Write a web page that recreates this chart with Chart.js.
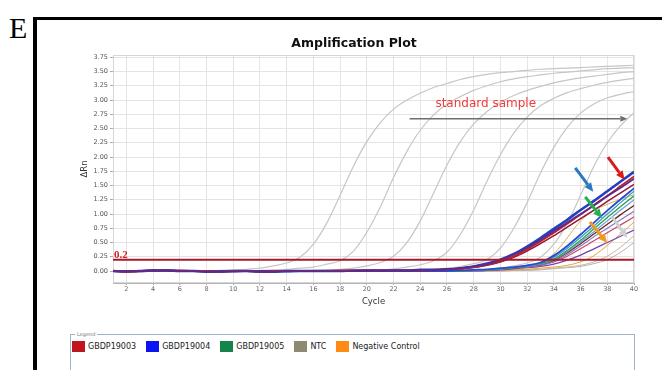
<!DOCTYPE html>
<html>
<head>
<meta charset="utf-8">
<script src="https://cdn.jsdelivr.net/npm/chart.js@4.4.1/dist/chart.umd.min.js"></script>
<style>
  html, body { margin: 0; padding: 0; background: #fff; }
  body { width: 662px; height: 370px; position: relative; overflow: hidden; font-family: "DejaVu Sans", sans-serif; }
  #panel-letter { position: absolute; left: 9px; top: 13px; font: 30px/30px "Liberation Serif", serif; color: #000; }
  #frame-top { position: absolute; left: 33px; top: 17px; width: 629px; height: 3px; background: #000; }
  #frame-left { position: absolute; left: 33px; top: 17px; width: 4px; height: 353px; background: #000; }
  #chart { position: absolute; left: 0; top: 0; }
  #legend-box { position: absolute; left: 70px; top: 334px; width: 563px; height: 50px; border: 1px solid #a3b3c6; }
  #legend-title { position: absolute; left: 4px; top: -4px; padding: 0 2px; background: #fff; font-size: 5px; line-height: 7px; color: #777; }
  #legend-items { position: absolute; left: 1px; top: 6px; display: flex; align-items: center; }
  .legend-item { display: flex; align-items: center; margin-right: 10px; }
  .legend-swatch { width: 13px; height: 11px; margin-right: 3px; }
  .legend-label { font-size: 8px; color: #222; }
</style>
</head>
<body>
<div id="panel-letter">E</div>
<div id="frame-top"></div>
<div id="frame-left"></div>
<canvas id="chart" width="662" height="330"></canvas>
<div id="legend-box">
  <div id="legend-title">Legend</div>
  <div id="legend-items"></div>
</div>
<script>
// DATA
const cycles = [1,2,3,4,5,6,7,8,9,10,11,12,13,14,15,16,17,18,19,20,21,22,23,24,25,26,27,28,29,30,31,32,33,34,35,36,37,38,39,40];
const xTicks = [2,4,6,8,10,12,14,16,18,20,22,24,26,28,30,32,34,36,38,40];
const yTicks = [0,0.25,0.5,0.75,1,1.25,1.5,1.75,2,2.25,2.5,2.75,3,3.25,3.5,3.75];
const threshold = 0.2;

// standard sample curves (gray)
const std1 = [0,0,0,0,0,0,0,0,0.01,0.02,0.03,0.05,0.09,0.14,0.24,0.47,0.84,1.33,1.84,2.27,2.6,2.84,3.0,3.12,3.22,3.29,3.36,3.41,3.45,3.48,3.5,3.52,3.54,3.55,3.56,3.57,3.58,3.59,3.6,3.61];
const std2 = [0,0,0,0,0,0,0,0,0,0,0,0.01,0.02,0.03,0.05,0.07,0.12,0.18,0.35,0.68,1.12,1.64,2.1,2.47,2.74,2.93,3.06,3.17,3.25,3.32,3.37,3.41,3.44,3.47,3.49,3.51,3.53,3.55,3.56,3.57];
const std3 = [0,0,0,0,0,0,0,0,0,0,0,0,0,0,0,0.01,0.02,0.03,0.05,0.09,0.15,0.26,0.5,0.88,1.37,1.86,2.27,2.58,2.8,2.96,3.08,3.17,3.24,3.3,3.35,3.39,3.42,3.45,3.48,3.5];
const std4 = [0,0,0,0,0,0,0,0,0,0,0,0,0,0,0,0,0,0,0,0.01,0.02,0.04,0.07,0.11,0.18,0.33,0.64,1.07,1.58,2.04,2.42,2.7,2.9,3.03,3.13,3.2,3.26,3.31,3.35,3.38];
const std5 = [0,0,0,0,0,0,0,0,0,0,0,0,0,0,0,0,0,0,0,0,0,0,0,0.02,0.03,0.05,0.08,0.13,0.2,0.4,0.75,1.2,1.72,2.17,2.52,2.77,2.93,3.04,3.1,3.15];
const std6 = [0,0,0,0,0,0,0,0,0,0,0,0,0,0,0,0,0,0,0,0,0,0,0,0,0,0,0,0.02,0.03,0.05,0.09,0.14,0.24,0.47,0.84,1.33,1.84,2.25,2.55,2.78];

// sample curves
const a1 = [0,-0.01,0,0.01,0.01,0,0,-0.01,-0.01,0,0,-0.01,-0.01,0,0,0,0,0,0.01,0.01,0.01,0.01,0.01,0.02,0.02,0.03,0.05,0.08,0.13,0.2,0.3,0.43,0.58,0.74,0.9,1.07,1.23,1.4,1.57,1.74];
const a2 = [0,-0.01,0,0.01,0.01,0.01,0,0,-0.01,0,0,-0.01,0,0,0,0,0,0.01,0.01,0.01,0.01,0.01,0.01,0.01,0.02,0.03,0.04,0.07,0.11,0.17,0.26,0.38,0.52,0.67,0.83,0.99,1.16,1.32,1.49,1.66];
const a3 = [0,0,0,0.01,0.01,0,0,-0.01,-0.01,-0.01,0,-0.01,-0.01,0,0,0,0,0,0,0.01,0.01,0.01,0.01,0.02,0.02,0.03,0.05,0.08,0.12,0.19,0.29,0.41,0.55,0.7,0.85,1.0,1.15,1.31,1.46,1.62];
const a4 = [0,-0.01,-0.01,0,0.01,0,0,0,-0.01,0,0,0,-0.01,0,0,0,0,0,0,0,0,0.01,0.01,0.01,0.02,0.03,0.04,0.06,0.1,0.16,0.24,0.35,0.48,0.62,0.77,0.92,1.07,1.22,1.37,1.52];
const b1 = [0,-0.01,0,0.01,0.01,0,0,-0.01,-0.01,0,0,-0.01,-0.01,-0.01,0,0,0,0,0,0,0,0,0,0,0,0,0.01,0.02,0.03,0.05,0.07,0.1,0.15,0.27,0.44,0.64,0.85,1.06,1.26,1.45];
const b2 = [0,0,0,0.01,0,0,0,-0.01,0,0,0,-0.01,-0.01,0,0,0,0,0,0,0,0,0,0,0,0,0,0.01,0.01,0.02,0.04,0.06,0.09,0.14,0.24,0.4,0.59,0.79,1.0,1.2,1.4];
const b3 = [0,0,0,0,0.01,0,0,0,-0.01,0,0,0,-0.01,0,0,0,0,0,0,0,0,0,0,0,0,0,0,0.01,0.02,0.04,0.06,0.09,0.13,0.21,0.36,0.54,0.74,0.94,1.13,1.32];
const b4 = [0,0,0,0,0,0,0,0,0,0,0,-0.01,0,0,0,0,0,0,0,0,0,0,0,0,0,0,0,0.01,0.02,0.03,0.06,0.08,0.12,0.2,0.34,0.51,0.69,0.88,1.07,1.25];
const b5 = [0,-0.01,0,0,0.01,0,0,0,0,0,0,0,-0.01,0,0,0,0,0,0,0,0,0,0,0,0,0,0,0.01,0.02,0.03,0.05,0.08,0.12,0.19,0.32,0.48,0.65,0.82,0.99,1.15];
const b6 = [0,0,0,0,0,0,0,0,0,0,0,0,0,0,0,0,0,0,0,0,0,0,0,0,0,0,0,0,0.01,0.03,0.05,0.07,0.11,0.17,0.29,0.44,0.6,0.75,0.9,1.05];
const b7 = [0,0,0,0.01,0,0,0,0,0,0,0,0,0,0,0,0,0,0,0,0,0,0,0,0,0,0,0,0,0.01,0.03,0.05,0.07,0.1,0.16,0.26,0.39,0.53,0.67,0.81,0.95];
const b8 = [0,0,0,0,0,0,0,0,0,0,0,0,0,0,0,0,0,0,0,0,0,0,0,0,0,0,0,0,0.01,0.02,0.04,0.06,0.08,0.12,0.19,0.28,0.39,0.5,0.61,0.72];
const t1 = [0,0,0,0,0,0,0,0,0,0,0,0,0,0,0,0,0,0,0,0,0,0,0,0,0,0,0,0.01,0.02,0.03,0.05,0.08,0.14,0.3,0.58,0.88,1.06,1.17,1.26,1.34];
const negCtrl = [0,0,0,0,0,0,0,0,0,0,0,0,0,0,0,0,0,0,0,0,0,0,0,0,0,0,0,0,0,0.01,0.02,0.03,0.05,0.07,0.1,0.16,0.27,0.45,0.65,0.86];
const ntc1 = [0,0,0,0,0,0,0,0,0,0,0,0,0,0,0,0,0,0,0,0,0,0,0,0,0,0,0,0,0,0,0.01,0.02,0.03,0.05,0.07,0.1,0.16,0.26,0.42,0.62];
const ntc2 = [0,0,0,0,0,0,0,0,0,0,0,0,0,0,0,0,0,0,0,0,0,0,0,0,0,0,0,0,0,0,0.01,0.01,0.02,0.04,0.06,0.08,0.13,0.2,0.33,0.5];

// legend
const legendNames = ['GBDP19003', 'GBDP19004', 'GBDP19005', 'NTC', 'Negative Control'];
const legendColors = ['#c0141f', '#0a14f0', '#14844a', '#8e8a72', '#ff8a14'];

// annotations (data units)
const stdArrow = { from: [23.2, 2.67], to: [39.5, 2.67] };
const stdText = { label: 'standard sample', at: [28.9, 2.93] };
const markArrows = [
  { from: [35.6, 1.81], to: [36.95, 1.39], color: '#2a78c4' },
  { from: [38.05, 2.0], to: [39.3, 1.6], color: '#d81c1c' },
  { from: [36.35, 1.3], to: [37.6, 0.93], color: '#22b04a' },
  { from: [36.7, 0.86], to: [38.0, 0.49], color: '#f29a1e' },
  { from: [38.35, 0.95], to: [39.5, 0.58], color: '#cfcfcf' }
];

// LEGEND (html)
const legendItems = document.getElementById('legend-items');
legendNames.forEach((name, i) => {
  const item = document.createElement('div');
  item.className = 'legend-item';
  item.innerHTML = '<div class="legend-swatch" style="background:' + legendColors[i] + '"></div><span class="legend-label">' + name + '</span>';
  legendItems.appendChild(item);
});

function curve(vals, color, width, order) {
  return {
    data: cycles.map((c, i) => ({ x: c, y: vals[i] })),
    borderColor: color,
    borderWidth: width,
    pointRadius: 0,
    cubicInterpolationMode: 'monotone',
    fill: false,
    order: order
  };
}

function drawArrow(ctx, x0, y0, x1, y1, color, width, headLen, headW) {
  const ang = Math.atan2(y1 - y0, x1 - x0);
  const bx = x1 - Math.cos(ang) * headLen;
  const by = y1 - Math.sin(ang) * headLen;
  ctx.strokeStyle = color;
  ctx.fillStyle = color;
  ctx.lineWidth = width;
  ctx.lineCap = 'butt';
  ctx.beginPath();
  ctx.moveTo(x0, y0);
  ctx.lineTo(bx, by);
  ctx.stroke();
  ctx.beginPath();
  ctx.moveTo(x1, y1);
  ctx.lineTo(bx + Math.sin(ang) * headW / 2, by - Math.cos(ang) * headW / 2);
  ctx.lineTo(bx - Math.sin(ang) * headW / 2, by + Math.cos(ang) * headW / 2);
  ctx.closePath();
  ctx.fill();
}

const plotFrame = {
  id: 'plotFrame',
  beforeDatasetsDraw(chart) {
    const { ctx, chartArea } = chart;
    ctx.save();
    ctx.strokeStyle = '#d6d6d6';
    ctx.lineWidth = 1;
    ctx.strokeRect(chartArea.left + 0.5, chartArea.top + 0.5, chartArea.width - 1, chartArea.height - 1);
    ctx.restore();
  }
};

const annotations = {
  id: 'annotations',
  afterDatasetsDraw(chart) {
    const { ctx, scales: { x, y } } = chart;
    ctx.save();
    // threshold value
    ctx.fillStyle = '#d42020';
    ctx.font = 'bold 11px "Liberation Serif"';
    ctx.textAlign = 'left';
    ctx.textBaseline = 'alphabetic';
    ctx.fillText(String(threshold), x.getPixelForValue(1) + 1, y.getPixelForValue(threshold) - 1.5);
    // standard sample arrow + text
    drawArrow(ctx, x.getPixelForValue(stdArrow.from[0]), y.getPixelForValue(stdArrow.from[1]),
      x.getPixelForValue(stdArrow.to[0]), y.getPixelForValue(stdArrow.to[1]), '#6e6e6e', 1.5, 7, 6);
    ctx.fillStyle = '#f23a3a';
    ctx.font = '12px "DejaVu Sans"';
    ctx.textAlign = 'center';
    ctx.textBaseline = 'middle';
    ctx.fillText(stdText.label, x.getPixelForValue(stdText.at[0]), y.getPixelForValue(stdText.at[1]));
    // sample arrows
    markArrows.forEach(a => {
      drawArrow(ctx, x.getPixelForValue(a.from[0]), y.getPixelForValue(a.from[1]),
        x.getPixelForValue(a.to[0]), y.getPixelForValue(a.to[1]), a.color, 3, 9, 8);
    });
    ctx.restore();
  }
};

const tickFont = { family: 'DejaVu Sans', size: 6.5 };
const titleFont = { family: 'DejaVu Sans', size: 8.5 };

const ctx = document.getElementById('chart').getContext('2d');
const ampChart = new Chart(ctx, {
  type: 'line',
  data: {
    datasets: [
      { data: [{ x: 1, y: threshold }, { x: 40, y: threshold }], borderColor: '#a9172b', borderWidth: 2, pointRadius: 0, order: 0 },
      curve(a3, '#5a2a8c', 1.8, 1),
      curve(a2, '#c0202e', 1.8, 1),
      curve(a1, '#2040c0', 2.6, 1),
      curve(a4, '#8e1a3a', 1.5, 1),
      curve(b1, '#2a4ad0', 1.8, 1),
      curve(b2, '#3a9ac8', 1.3, 1),
      curve(b3, '#2ca04c', 1.3, 1),
      curve(b4, '#6a9ee0', 1.2, 1),
      curve(b5, '#6a2818', 1.3, 1),
      curve(b6, '#8878cc', 1.2, 1),
      curve(b7, '#c84860', 1.2, 1),
      curve(b8, '#7446ac', 1.3, 1),
      curve(t1, '#d6ae5c', 1, 1),
      curve(negCtrl, '#eaa040', 1, 1),
      curve(ntc1, '#c4b898', 1, 1),
      curve(ntc2, '#b4b4b4', 1, 1),
      curve(std1, '#c6c6c6', 1.2, 2),
      curve(std2, '#c6c6c6', 1.2, 2),
      curve(std3, '#c6c6c6', 1.2, 2),
      curve(std4, '#c6c6c6', 1.2, 2),
      curve(std5, '#c6c6c6', 1.2, 2),
      curve(std6, '#c6c6c6', 1.2, 2)
    ]
  },
  options: {
    responsive: false,
    animation: false,
    events: [],
    layout: { padding: { left: 74, right: 28, top: 0, bottom: 0 } },
    plugins: {
      legend: { display: false },
      tooltip: { enabled: false },
      title: {
        display: true,
        text: 'Amplification Plot',
        color: '#111',
        font: { family: 'DejaVu Sans', size: 12.5, weight: 'bold' },
        padding: { top: 36.5, bottom: 3.5 }
      }
    },
    scales: {
      x: {
        type: 'linear',
        min: 1,
        max: 40,
        afterBuildTicks: s => { s.ticks = xTicks.map(v => ({ value: v })); },
        afterFit: s => { s.height = 47; },
        ticks: { font: tickFont, color: '#666', padding: 0, maxRotation: 0, autoSkip: false, callback: v => String(v) },
        grid: { color: '#e4e4e4', tickLength: 2, tickColor: '#aaa' },
        border: { color: '#b4b4b4' },
        title: { display: true, text: 'Cycle', color: '#333', font: titleFont, padding: { top: 0, bottom: 23 } }
      },
      y: {
        type: 'linear',
        min: -0.21,
        max: 3.79,
        afterBuildTicks: s => { s.ticks = yTicks.map(v => ({ value: v })); },
        afterFit: s => { s.width = 39; },
        ticks: { font: tickFont, color: '#555', padding: 2, callback: v => v.toFixed(2) },
        grid: { color: '#e4e4e4', tickLength: 3, tickColor: '#aaa' },
        border: { color: '#b4b4b4' },
        title: { display: true, text: 'ΔRn', color: '#333', font: titleFont, padding: { top: 6, bottom: 0 } }
      }
    }
  },
  plugins: [plotFrame, annotations]
});
</script>
</body>
</html>
